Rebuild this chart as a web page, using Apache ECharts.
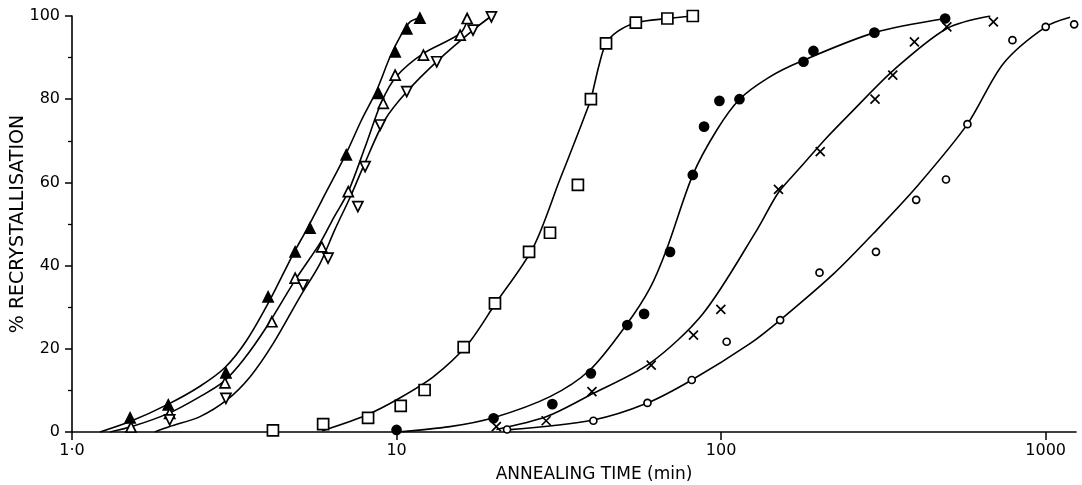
<!DOCTYPE html>
<html>
<head>
<meta charset="utf-8">
<script src="https://cdn.jsdelivr.net/npm/echarts@6/dist/echarts.min.js"></script>
<style>html,body{margin:0;padding:0;background:#fff;}#c{width:1082px;height:485px;}</style>
</head>
<body>
<div id="c"></div>
<script>
// ---- data (annealing time in min, % recrystallisation) ----
const xTicks = [1, 10, 100, 1000];
const xTickLabels = ['1·0', '10', '100', '1000'];

// measured points
const ptsFilledTri = [[1.51,3.4],[1.98,6.5],[2.98,14.2],[4.02,32.5],[4.87,43.3],[5.41,49],[7.0,66.6],[8.8,81.4],[9.9,91.4],[10.75,96.9],[11.8,99.5]];
const ptsOpenTri = [[1.52,1.2],[2.0,4.5],[2.96,11.8],[4.13,26.5],[4.87,37],[5.88,44.5],[7.1,57.8],[9.1,79],[9.9,85.8],[12.1,90.6],[15.7,95.4],[16.5,99.4]];
const ptsInvTri = [[2.0,2.9],[2.98,8.1],[5.15,35.3],[6.15,41.8],[7.6,54.2],[8.0,63.8],[8.9,73.8],[10.75,81.8],[13.3,89],[17.2,96.6],[19.6,99.8]];
const ptsSquare = [[4.16,0.4],[5.94,1.9],[8.17,3.4],[10.3,6.3],[12.2,10.1],[16.1,20.4],[20.1,30.9],[25.6,43.3],[29.7,47.9],[36.2,59.4],[39.7,80],[44.2,93.4],[54.6,98.4],[68.3,99.4],[81.8,100]];
const ptsFilledCirc = [[10,0.5],[19.9,3.3],[30.2,6.7],[39.7,14.1],[51.4,25.7],[57.9,28.4],[69.6,43.3],[81.8,61.8],[88.6,73.4],[98.8,79.6],[113.9,80],[179.4,89],[192.5,91.6],[296.7,96],[490,99.4]];
const ptsCross = [[20.3,1.3],[28.9,2.7],[40,9.7],[60.9,16.1],[82.2,23.3],[99.8,29.5],[150.2,58.3],[202,67.4],[298,80],[338,85.8],[394,93.8],[496,97.4],[690,98.6]];
const ptsOpenCirc = [[21.9,0.6],[40.4,2.7],[59.3,7],[81.2,12.5],[104,21.7],[152,26.9],[201,38.3],[300,43.3],[399,55.8],[493,60.7],[574,74],[790,94.2],[1000,97.4],[1224,98]];

// hand-drawn fitted curves
const curveFilledTri = [[1.22,0],[1.51,2.5],[1.98,6.7],[2.48,11],[2.96,15.5],[3.45,22],[4.07,31.7],[4.81,42.9],[5.28,48.6],[6.1,58],[7.0,67],[7.8,75],[8.69,82.2],[9.55,90.2],[10.25,95],[11,98.6],[11.8,99.6]];
const curveOpenTri = [[1.31,0],[1.53,1.3],[2.0,4.6],[2.48,8.5],[2.93,12.1],[3.37,17.3],[3.98,25.3],[4.87,36.5],[5.81,45.4],[6.4,51.5],[7.1,57.8],[8.0,68.5],[9.0,79.4],[10,85.5],[12.1,91],[15.7,95.8],[16.6,99.4]];
const curveInvTri = [[1.8,0],[2.0,1.3],[2.48,3.7],[3.0,7.7],[3.54,13.3],[4.17,21.3],[5.04,32.5],[5.81,40.5],[6.45,48.6],[7.2,56.5],[7.9,63.8],[9.2,75],[10.75,81.8],[13.45,89.4],[17.2,96.6],[19.6,100]];
const curveSquare = [[5.9,0.3],[8.1,4.1],[10.2,8.1],[13,13.3],[16.5,20.9],[20.1,30.7],[26.3,44.2],[31.9,60.8],[35.5,70],[38.6,77.4],[39.7,80],[42,88],[44.2,93.4],[48,96.3],[54.6,98.4],[68.3,99.4],[81.8,100]];
const curveFilledCirc = [[10,0],[14.6,1.3],[20,3.5],[29.7,8.5],[39.4,14.9],[51,25.7],[60.3,34.5],[68,44],[81.8,61.8],[97,72.6],[114,80],[140,85.2],[175,89],[297,96],[490,99.4]];
const curveCross = [[20.3,0.6],[29,3.7],[40.4,9.3],[60.3,16.5],[88,28.5],[129,48.6],[150,57.5],[175,63.5],[210,70.5],[250,76.6],[340,87],[496,97],[675,100]];
const curveOpenCirc = [[21.8,0.5],[40.4,2.9],[59,6.9],[81.2,12.5],[123,21.3],[152,26.9],[222,38],[302,48.6],[401,59],[574,74],[741,88.6],[1000,97.4],[1189,99.7]];

const FONT = 'DejaVu Sans';
const chart = echarts.init(document.getElementById('c'), null, {renderer: 'canvas'});

function curve(data) {
  return {type: 'line', data: data, smooth: 0.3, showSymbol: false, symbol: 'none',
    lineStyle: {color: '#000', width: 1.6}, z: 2, silent: true};
}
function pts(data, symbol, size, fill, extra) {
  return Object.assign({type: 'scatter', data: data, symbol: symbol, symbolSize: size,
    itemStyle: {color: fill, borderColor: '#000', borderWidth: 1.7, opacity: 1}, z: 5, silent: true}, extra || {});
}

chart.setOption({
  animation: false,
  backgroundColor: '#fff',
  grid: {left: 72, right: 6, top: 16, bottom: 53, containLabel: false, outerBoundsMode: 'none'},
  xAxis: {
    type: 'log', logBase: 10, min: 1, max: 1240,
    name: 'ANNEALING TIME (min)', nameLocation: 'middle', nameGap: 34, nameMoveOverlap: false,
    nameTextStyle: {fontFamily: FONT, fontSize: 17, color: '#000', padding: [0, 0, 0, 40]},
    axisLine: {show: true, lineStyle: {color: '#000', width: 1.6}},
    axisTick: {show: true, length: 8, inside: false, lineStyle: {color: '#000', width: 1.5}, customValues: xTicks},
    axisLabel: {fontFamily: FONT, fontSize: 16, color: '#000', margin: 11, customValues: xTicks,
      formatter: function (v) { const i = xTicks.indexOf(Math.round(v)); return i >= 0 ? xTickLabels[i] : ''; }},
    splitLine: {show: false}, minorTick: {show: false}
  },
  yAxis: {
    type: 'value', min: 0, max: 100, interval: 20,
    name: '% RECRYSTALLISATION', nameLocation: 'middle', nameGap: 44, nameRotate: 90, nameMoveOverlap: false,
    nameTextStyle: {fontFamily: FONT, fontSize: 19, color: '#000'},
    axisLine: {show: true, lineStyle: {color: '#000', width: 1.6}},
    axisTick: {show: true, length: 7, lineStyle: {color: '#000', width: 1.5}},
    minorTick: {show: true, splitNumber: 2, length: 4, lineStyle: {color: '#000', width: 1.3}},
    axisLabel: {fontFamily: FONT, fontSize: 16, color: '#000', margin: 12},
    splitLine: {show: false}
  },
  series: [
    curve(curveFilledTri), curve(curveOpenTri), curve(curveInvTri), curve(curveSquare),
    curve(curveFilledCirc), curve(curveCross), curve(curveOpenCirc),
    pts(ptsFilledTri, 'triangle', 10, '#000'),
    pts(ptsOpenTri, 'triangle', 10, '#fff'),
    pts(ptsInvTri, 'triangle', 10, '#fff', {symbolRotate: 180}),
    pts(ptsSquare, 'rect', 11, '#fff'),
    pts(ptsFilledCirc, 'circle', 9, '#000'),
    pts(ptsCross, 'path://M0,0L10,10M10,0L0,10', 9, 'none'),
    pts(ptsOpenCirc, 'circle', 7, '#fff')
  ]
});
</script>
</body>
</html>
